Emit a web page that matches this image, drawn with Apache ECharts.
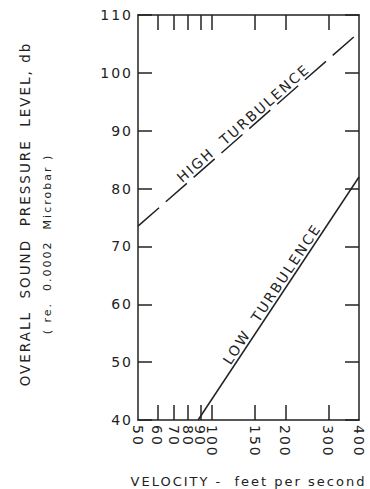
<!DOCTYPE html>
<html>
<head>
<meta charset="utf-8">
<script src="https://cdn.jsdelivr.net/npm/echarts@6/dist/echarts.min.js"></script>
<style>
    html, body { margin: 0; padding: 0; background: #fff; }
    #chart { width: 370px; height: 489px; }
    #chart text { letter-spacing: 2px; }
</style>
</head>
<body>
<div id="chart"></div>
<script>
// velocity (ft/s) on a log scale, level in dB
var velLabels = [50, 60, 70, 80, 90, 100, 150, 200, 300, 400];
var velTicks = [60, 70, 80, 90, 100, 150, 200, 300];
var highVel = [50, 400];
var highDb = [73.5, 107];
var lowVel = [88, 400];
var lowDb = [40, 82];

var ink = '#222';
var font = 'DejaVu Sans';

function lg(v) {
    return Math.log10(v);
}

function toPoints(xs, ys) {
    var pts = [];
    for (var i = 0; i < xs.length; i++) {
        pts.push([lg(xs[i]), ys[i]]);
    }
    return pts;
}

var highPts = toPoints(highVel, highDb);
var lowPts = toPoints(lowVel, lowDb);

function lineLabel(pts, text) {
    return {
        silent: true,
        symbol: 'none',
        lineStyle: {color: 'rgba(0,0,0,0)', width: 0},
        label: {
            show: true,
            position: 'insideMiddleTop',
            formatter: text,
            color: ink,
            fontFamily: font,
            fontSize: 14,
            distance: 1
        },
        data: [[{coord: pts[0]}, {coord: pts[pts.length - 1]}]]
    };
}

var xMin = lg(velLabels[0]);
var xMax = lg(velLabels[velLabels.length - 1]);

var option = {
    animation: false,
    backgroundColor: '#fff',
    grid: {left: 138, right: 11, top: 15, bottom: 69, containLabel: false, outerBoundsMode: 'none'},
    xAxis: [
        {
            type: 'value',
            position: 'bottom',
            min: xMin,
            max: xMax,
            name: 'VELOCITY -  feet per second',
            nameLocation: 'middle',
            nameGap: 55,
            nameTextStyle: {color: ink, fontFamily: font, fontSize: 13},
            splitLine: {show: false},
            axisLine: {lineStyle: {color: ink, width: 1.5}},
            axisTick: {
                inside: true,
                length: 15,
                lineStyle: {color: ink, width: 1.5},
                customValues: velTicks.map(lg)
            },
            axisLabel: {
                customValues: velLabels.map(lg),
                rotate: -90,
                margin: 5,
                color: ink,
                fontFamily: font,
                fontSize: 14,
                formatter: function (v) {
                    return String(Math.round(Math.pow(10, v)));
                }
            }
        },
        {
            type: 'value',
            position: 'top',
            min: xMin,
            max: xMax,
            splitLine: {show: false},
            axisLine: {lineStyle: {color: ink, width: 1.5}},
            axisTick: {
                inside: true,
                length: 15,
                lineStyle: {color: ink, width: 1.5},
                customValues: velTicks.map(lg)
            },
            axisLabel: {show: false}
        }
    ],
    yAxis: [
        {
            type: 'value',
            position: 'left',
            min: 40,
            max: 110,
            interval: 10,
            splitLine: {show: false},
            axisLine: {show: true, lineStyle: {color: ink, width: 1.5}},
            axisTick: {show: true, inside: true, length: 14, lineStyle: {color: ink, width: 1.5}},
            axisLabel: {margin: 5, color: ink, fontFamily: font, fontSize: 14}
        },
        {
            type: 'value',
            position: 'right',
            min: 40,
            max: 110,
            interval: 10,
            splitLine: {show: false},
            axisLine: {show: true, lineStyle: {color: ink, width: 1.5}},
            axisTick: {show: true, inside: true, length: 14, lineStyle: {color: ink, width: 1.5}},
            axisLabel: {show: false}
        }
    ],
    graphic: [
        {
            type: 'text',
            x: 25,
            y: 214,
            rotation: Math.PI / 2,
            style: {
                text: 'OVERALL  SOUND  PRESSURE  LEVEL, db',
                fill: ink,
                font: '13.5px "DejaVu Sans"',
                align: 'center',
                verticalAlign: 'middle'
            }
        },
        {
            type: 'text',
            x: 47,
            y: 244,
            rotation: Math.PI / 2,
            style: {
                text: '( re.  0.0002  Microbar )',
                fill: ink,
                font: '11px "DejaVu Sans"',
                align: 'center',
                verticalAlign: 'middle'
            }
        }
    ],
    series: [
        {
            name: 'HIGH TURBULENCE',
            type: 'line',
            symbol: 'none',
            data: highPts,
            lineStyle: {color: ink, width: 1.5, type: [28, 9]},
            markLine: lineLabel(highPts, 'HIGH  TURBULENCE')
        },
        {
            name: 'LOW TURBULENCE',
            type: 'line',
            symbol: 'none',
            data: lowPts,
            lineStyle: {color: ink, width: 1.5},
            markLine: lineLabel(lowPts, 'LOW  TURBULENCE')
        }
    ]
};

var chart = echarts.init(document.getElementById('chart'), null, {renderer: 'svg'});
chart.setOption(option);
</script>
</body>
</html>
